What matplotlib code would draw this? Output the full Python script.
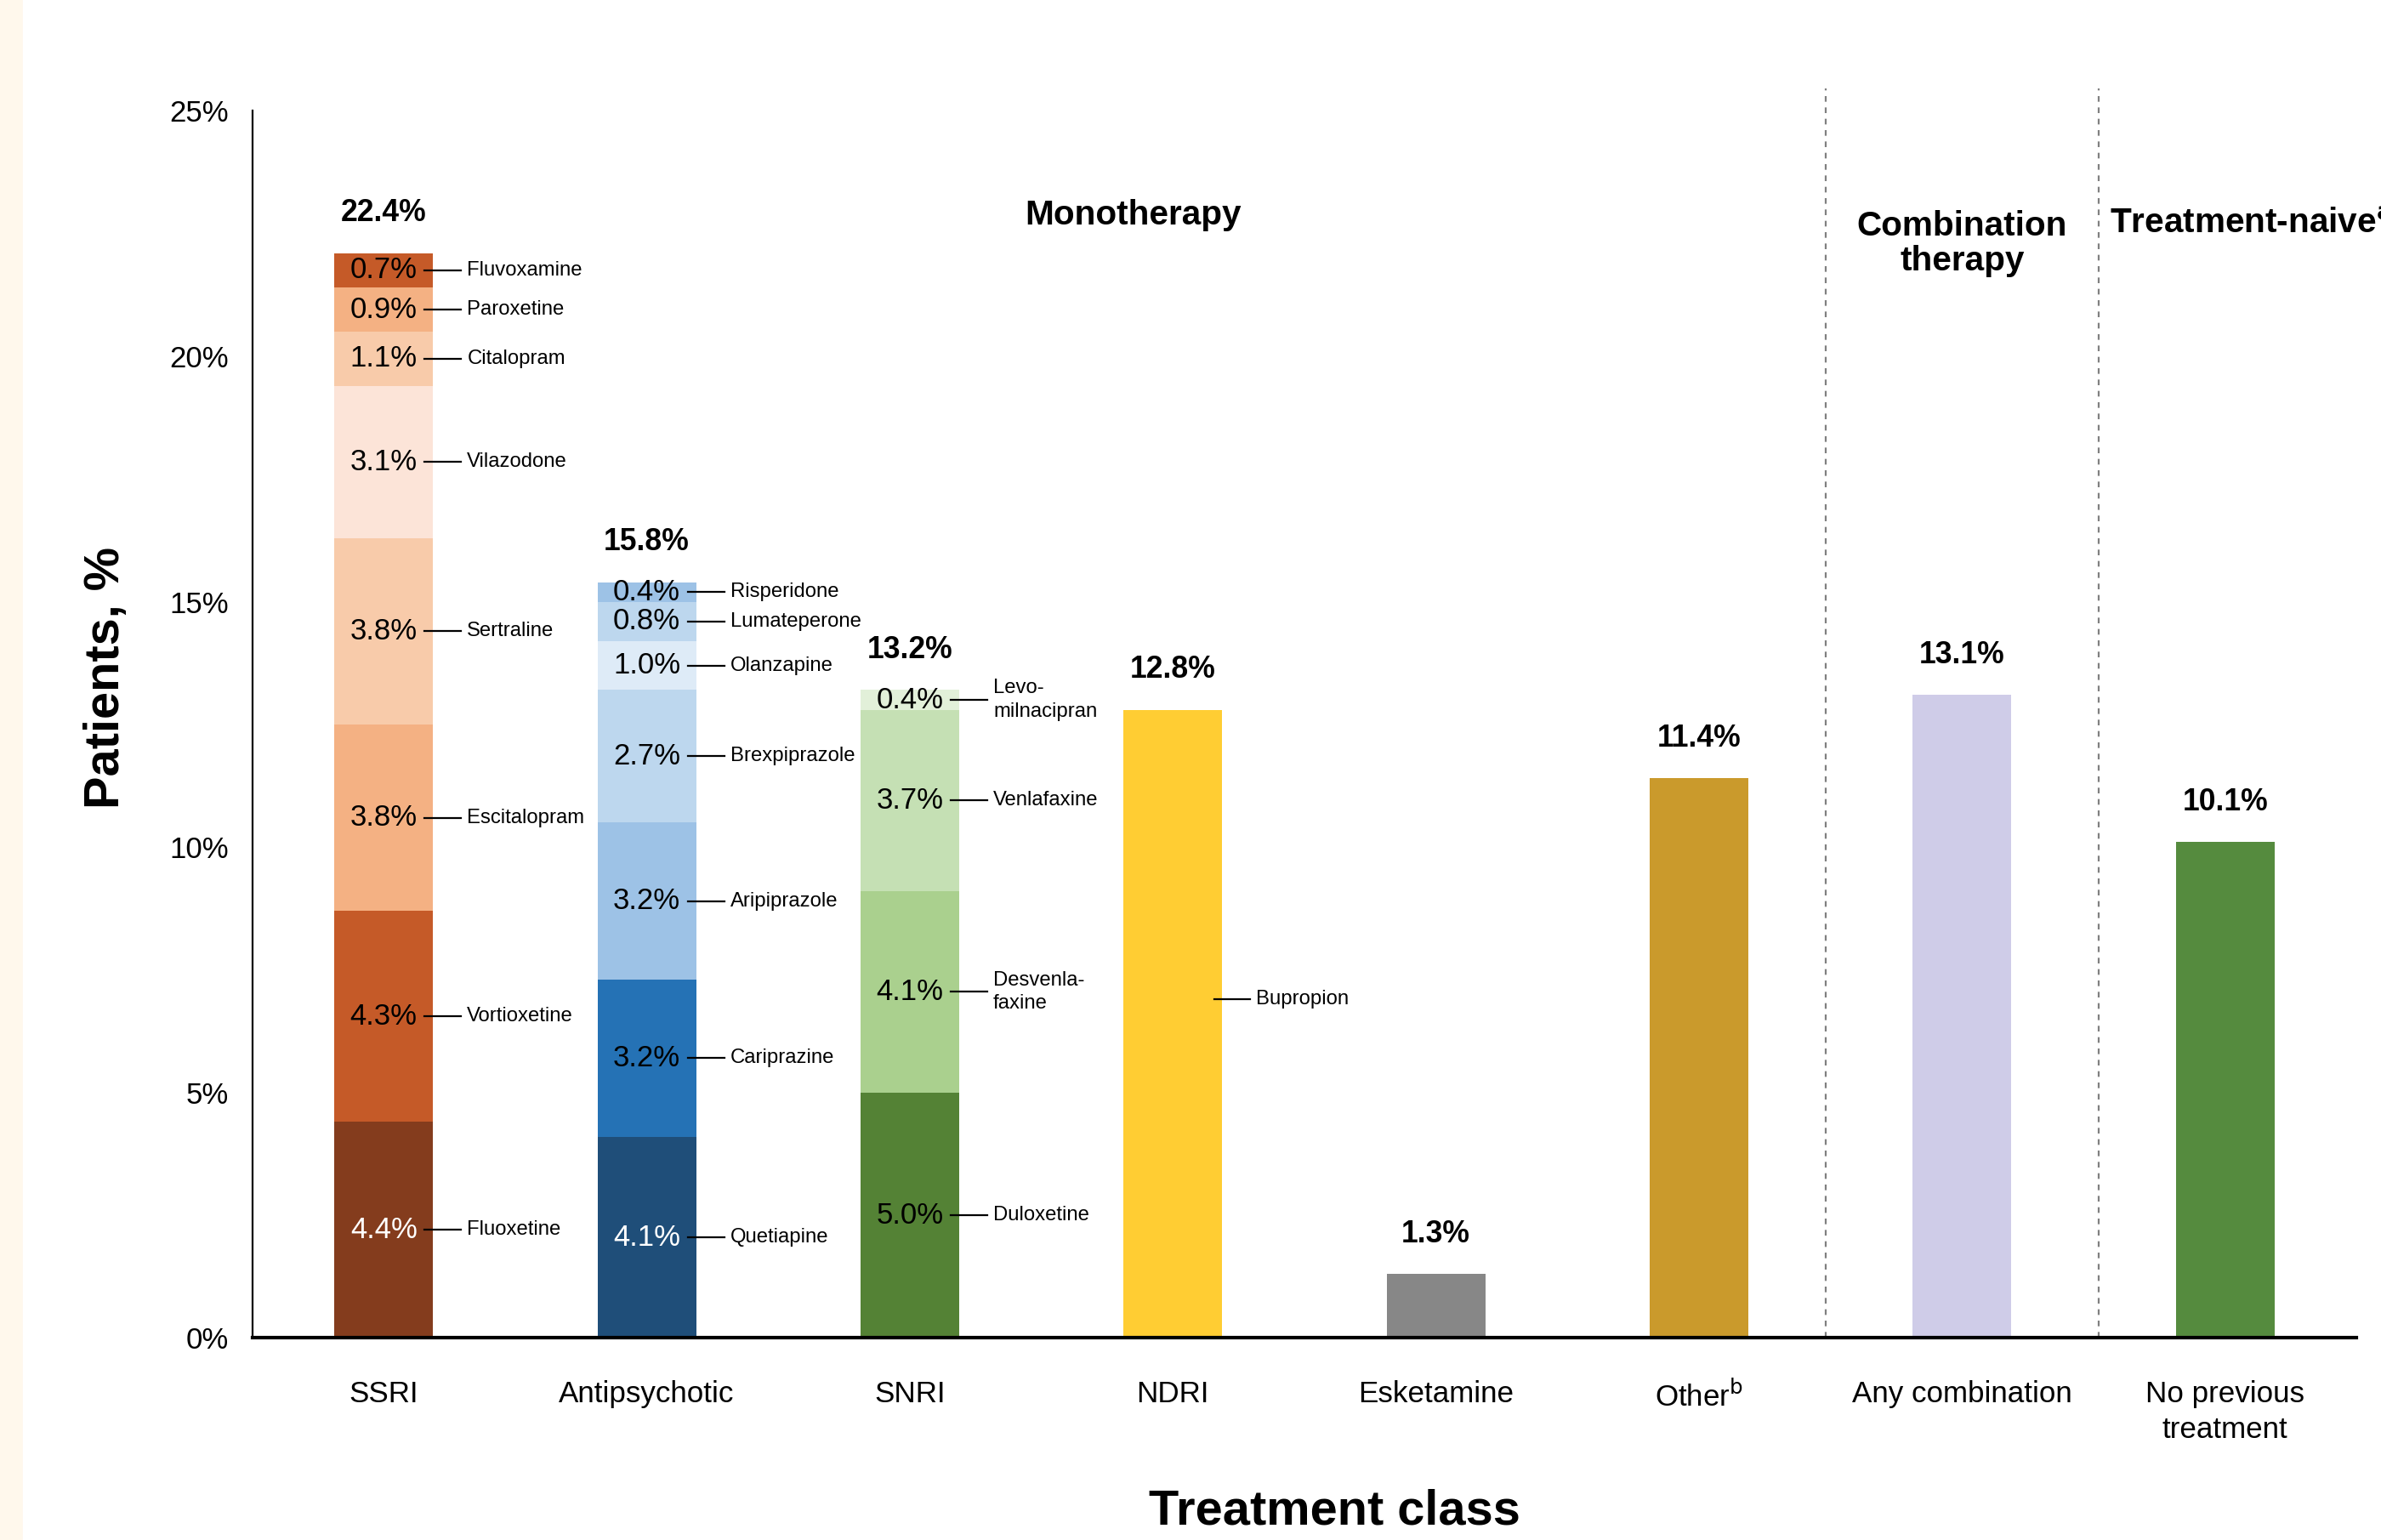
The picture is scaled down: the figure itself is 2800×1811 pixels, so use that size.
import matplotlib
matplotlib.use("Agg")
import matplotlib.pyplot as plt
import matplotlib.colors as mcolors
from matplotlib.patches import Rectangle

plt.rcParams["font.family"] = ["Liberation Sans", "DejaVu Sans"]

categories = ["SSRI", "Antipsychotic", "SNRI", "NDRI", "Esketamine",
              "Other$^{\\mathrm{b}}$", "Any combination", "No previous\ntreatment"]
totals = [22.4, 15.8, 13.2, 12.8, 1.3, 11.4, 13.1, 10.1]

# stacked classes, listed bottom to top
ssri_drugs = ["Fluoxetine", "Vortioxetine", "Escitalopram", "Sertraline",
              "Vilazodone", "Citalopram", "Paroxetine", "Fluvoxamine"]
ssri_vals = [4.4, 4.3, 3.8, 3.8, 3.1, 1.1, 0.9, 0.7]
ssri_cols = ["#843C1D", "#C55A28", "#F4B183", "#F8CBAA", "#FCE4D8",
             "#F8CBAA", "#F4B183", "#C55A28"]

ap_drugs = ["Quetiapine", "Cariprazine", "Aripiprazole", "Brexpiprazole",
            "Olanzapine", "Lumateperone", "Risperidone"]
ap_vals = [4.1, 3.2, 3.2, 2.7, 1.0, 0.8, 0.4]
ap_cols = ["#1F4E79", "#2572B5", "#9DC2E6", "#BDD7EE", "#DEEBF7",
           "#BDD7EE", "#9DC2E6"]

snri_drugs = ["Duloxetine", "Desvenla-\nfaxine", "Venlafaxine", "Levo-\nmilnacipran"]
snri_vals = [5.0, 4.1, 3.7, 0.4]
snri_cols = ["#548235", "#AAD08E", "#C5E0B4", "#E2F0D9"]

# single-bar classes (NDRI onwards) use the totals directly
single_cols = ["#FFCD33", "#878787", "#CA9A2C", "#CFCCE8", "#558B3E"]
bup_label_y = 6.9

W = 0.375
fig = plt.figure(figsize=(14, 9.055), dpi=200)
fig.patches.append(Rectangle((0, 0), 0.0088, 1, transform=fig.transFigure,
                             color="#FFF8EC", zorder=0))
ax = fig.add_axes([0.1059, 0.1312, 0.8839, 0.7968])


def lum(c):
    r, g, b = mcolors.to_rgb(c)
    return 0.299 * r + 0.587 * g + 0.114 * b


def callout(x, y, name):
    ax.plot([x + 0.156, x + 0.294], [y, y], color="black", lw=0.8)
    ax.text(x + 0.317, y, name, ha="left", va="center", fontsize=8.6,
            linespacing=1.3)


def stacked(x, vals, cols, drugs):
    bottom = 0
    for v, c, d in zip(vals, cols, drugs):
        ax.bar(x, v, W, bottom=bottom, color=c, linewidth=0)
        yc = bottom + v / 2
        ax.text(x, yc, f"{v:.1f}%", ha="center", va="center", fontsize=12.5,
                color="white" if lum(c) < 0.35 else "black")
        callout(x, yc, d)
        bottom += v
    return bottom


tops = [stacked(0, ssri_vals, ssri_cols, ssri_drugs),
        stacked(1, ap_vals, ap_cols, ap_drugs),
        stacked(2, snri_vals, snri_cols, snri_drugs)]

for i, (v, c) in enumerate(zip(totals[3:], single_cols)):
    ax.bar(3 + i, v, W, color=c, linewidth=0)
    tops.append(v)
callout(3, bup_label_y, "Bupropion")

for i, (t, top) in enumerate(zip(totals, tops)):
    ax.annotate(f"{t:.1f}%", (i, top), xytext=(0, 17), textcoords="offset points",
                ha="center", va="center", fontsize=12.8, fontweight="bold")

# section separators and headers
for xs in (5.48, 6.52):
    ax.plot([xs, xs], [0, 25.46], ls=(0, (3, 3)), color="#808080", lw=0.8,
            clip_on=False)
ax.text(2.85, 22.87, "Monotherapy", ha="center", va="center",
        fontsize=14.6, fontweight="bold")
ax.text(6.0, 22.3, "Combination\ntherapy", ha="center", va="center",
        fontsize=14.6, fontweight="bold", linespacing=1.1)
ax.text(6.56, 22.7, "Treatment-naive$^{\\mathbf{a}}$", ha="left", va="center",
        fontsize=14.6, fontweight="bold", clip_on=False)

ax.set_xlim(-0.5, 7.5)
ax.set_ylim(0, 25)
ax.set_yticks(range(0, 26, 5))
ax.set_yticklabels([f"{v}%" for v in range(0, 26, 5)])
ax.set_xticks(range(len(categories)))
ax.set_xticklabels(categories, linespacing=1.35)
ax.tick_params(axis="y", length=0, pad=10, labelsize=12.5)
ax.tick_params(axis="x", length=0, pad=18, labelsize=12.6)
for s in ("top", "right"):
    ax.spines[s].set_visible(False)
ax.spines["left"].set_linewidth(0.8)
ax.spines["bottom"].set_linewidth(1.5)

fig.text(0.0446, 0.56, "Patients, %", rotation=90, ha="center", va="center",
         fontsize=20.8, fontweight="bold")
fig.text(0.5606, 0.0187, "Treatment class", ha="center", va="center",
         fontsize=20.8, fontweight="bold")

fig.savefig("out.png", dpi=200)
